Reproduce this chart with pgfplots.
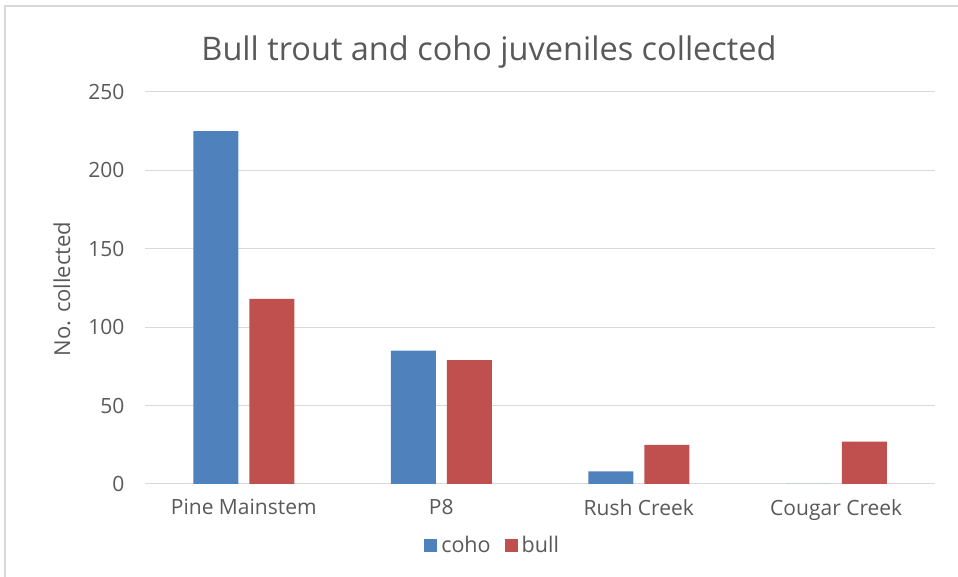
\documentclass[border=0pt]{standalone}
\usepackage{pgfplots}
\pgfplotsset{compat=1.18}
\usepackage{fontspec}
\setmainfont{Open Sans}
\definecolor{coho}{HTML}{4F81BD}
\definecolor{bull}{HTML}{C0504D}
\definecolor{txt}{HTML}{595959}
\definecolor{gridc}{HTML}{D9D9D9}
\begin{document}
\begin{tikzpicture}[x=1pt,y=1pt]
\useasboundingbox (0,0) rectangle (958,577);
\draw[gridc, line width=1.5pt] (5,-5) rectangle (965,571);
\begin{axis}[at={(145pt,93pt)}, anchor=south west, scale only axis,
  width=790pt, height=392pt,
  ybar=11pt, bar width=45pt,
  xmin=-0.5, xmax=3.5, ymin=0, ymax=250, ytick={0,50,...,250},
  xtick={0,1,2,3}, xticklabels={Pine Mainstem, P8, Rush Creek, Cougar Creek},
  ymajorgrids, grid style={gridc, line width=1pt},
  axis line style={draw=none}, major tick length=0pt,
  ticklabel style={font=\fontsize{21}{21}\selectfont, text=txt},
  /pgf/number format/assume math mode=true,
  yticklabel style={xshift=-17pt},
  xticklabel style={yshift=-12pt},
  legend style={at={(axis description cs:0.44,-0.156)}, anchor=center, draw=none,
    font=\fontsize{21.5}{21.5}\selectfont, text=txt, legend columns=2,
    /tikz/every even column/.append style={column sep=12pt},
    /tikz/every odd column/.append style={column sep=2pt}},
  legend image code/.code={\fill[#1] (0pt,-6.5pt) rectangle (13pt,6.5pt);},
]
\addplot[fill=coho, draw=none] coordinates {(0,225) (1,85) (2,8) (3,0)};
\addplot[fill=bull, draw=none] coordinates {(0,118) (1,79) (2,25) (3,27)};
\legend{coho, bull}
\end{axis}
\node[text=txt, font=\fontsize{32.5}{32.5}\selectfont] at (489,525) {Bull trout and coho juveniles collected};
\node[text=txt, font=\fontsize{22}{22}\selectfont, rotate=90] at (62,288) {No. collected};
\end{tikzpicture}
\end{document}
